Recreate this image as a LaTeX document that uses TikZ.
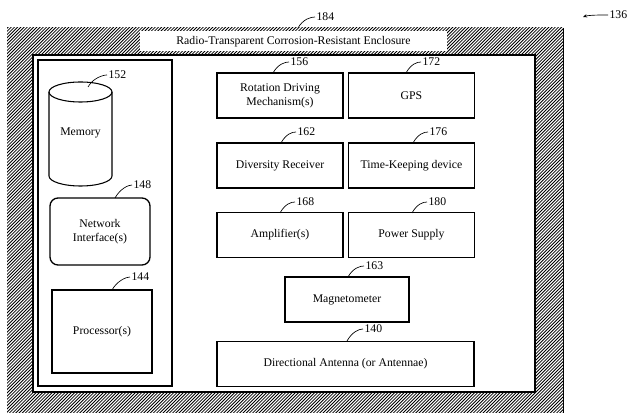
\documentclass[tikz,border=0pt]{standalone}
\usepackage{fontspec}
\setmainfont{Liberation Serif}
\usetikzlibrary{arrows.meta}

\tikzset{
  part/.style={draw, line width=1pt, minimum width=94.5pt, minimum height=33.75pt,
    align=center, inner sep=2pt, fill=white},
  num/.style={anchor=west, inner sep=1pt},
  lead/.style={line width=0.5pt}
}

\begin{document}
\begin{tikzpicture}[x=0.75pt, y=-0.75pt, font=\fontsize{8.8}{10.5}\selectfont]

\useasboundingbox (0,0) rectangle (629,413);

% hatched enclosure wall
\begin{scope}
\clip (7,28) rectangle (563,420);
\foreach \i in {-420,-416.8,...,570}
  \draw[line width=0.6pt] (\i,420) -- ++(400,-400);
\end{scope}
\draw[line width=0.5pt] (563,28) -- (563,420);

% label strip of the enclosure
\fill[white] (140,31) rectangle (447,51);
\node (enclosure) at (293.5,41.5) {Radio-Transparent Corrosion-Resistant Enclosure};

% inside of the enclosure
\draw[line width=1.4pt, fill=white] (33,55) rectangle (535,392);

% left panel
\draw[line width=1.1pt] (38,60) rectangle (172,386);

% memory cylinder
\draw[line width=0.8pt, fill=white]
 (49,92) -- (49,176) arc[start angle=180, end angle=0, x radius=31.5, y radius=10] -- (112,92);
\draw[line width=0.8pt] (80.5,92) ellipse [x radius=31.5, y radius=10];
\node (memory) at (80.5,133) {Memory};

\node[draw, line width=1pt, rounded corners=6pt, minimum width=75pt, minimum height=50.25pt,
  align=center] (network) at (100,231.5) {Network\\Interface(s)};
\node[draw, line width=1pt, minimum width=75pt, minimum height=62.25pt] (processor)
  at (102,331.5) {Processor(s)};

% right side parts
\node[part] (rotation) at (280,95.5) {Rotation Driving\\Mechanism(s)};
\node[part] (gps) at (411.5,95.5) {GPS};
\node[part] (diversity) at (280,165.5) {Diversity Receiver};
\node[part] (timekeeping) at (411.5,165.5) {Time-Keeping device};
\node[part] (amplifier) at (280,235) {Amplifier(s)};
\node[part] (power) at (411.5,235) {Power Supply};
\node[part, minimum width=93pt] (magnetometer) at (347,299.5) {Magnetometer};
\node[part, minimum width=192.75pt] (antenna) at (345.5,364) {Directional Antenna (or Antennae)};

% reference numbers
\node[num] (n184) at (315,17) {184};
\node[num] (n136) at (608,15) {136};
\node[num] (n152) at (107,75) {152};
\node[num] (n148) at (132,185) {148};
\node[num] (n144) at (130,277) {144};
\node[num] (n156) at (289,62) {156};
\node[num] (n172) at (421,62) {172};
\node[num] (n162) at (296,132) {162};
\node[num] (n176) at (428,132) {176};
\node[num] (n168) at (295,202) {168};
\node[num] (n180) at (427,202) {180};
\node[num] (n163) at (364,266) {163};
\node[num] (n140) at (363,329) {140};

\coordinate (c184) at (298,28);
\coordinate (c152) at (88,87);
\coordinate (c148) at (115,198);
\coordinate (c144) at (112,290);
\coordinate (c156) at (273,73);
\coordinate (c172) at (406,73);
\coordinate (c162) at (281,143);
\coordinate (c176) at (413,143);
\coordinate (c168) at (280,213);
\coordinate (c180) at (412,213);
\coordinate (c163) at (348,277);
\coordinate (c140) at (347,341);
\coordinate (a136) at (583,17);

% leader lines
\foreach \r in {184,152,148,144,156,172,162,176,168,180,163,140}
  \draw[lead] (c\r) .. controls +(5,-9) and +(-4,0) .. (n\r.west);
\draw[lead, -{Stealth[length=3pt, width=2.5pt]}] (n136.west) .. controls +(-8,0) and +(6,-2) .. (a136);

\end{tikzpicture}
\end{document}
